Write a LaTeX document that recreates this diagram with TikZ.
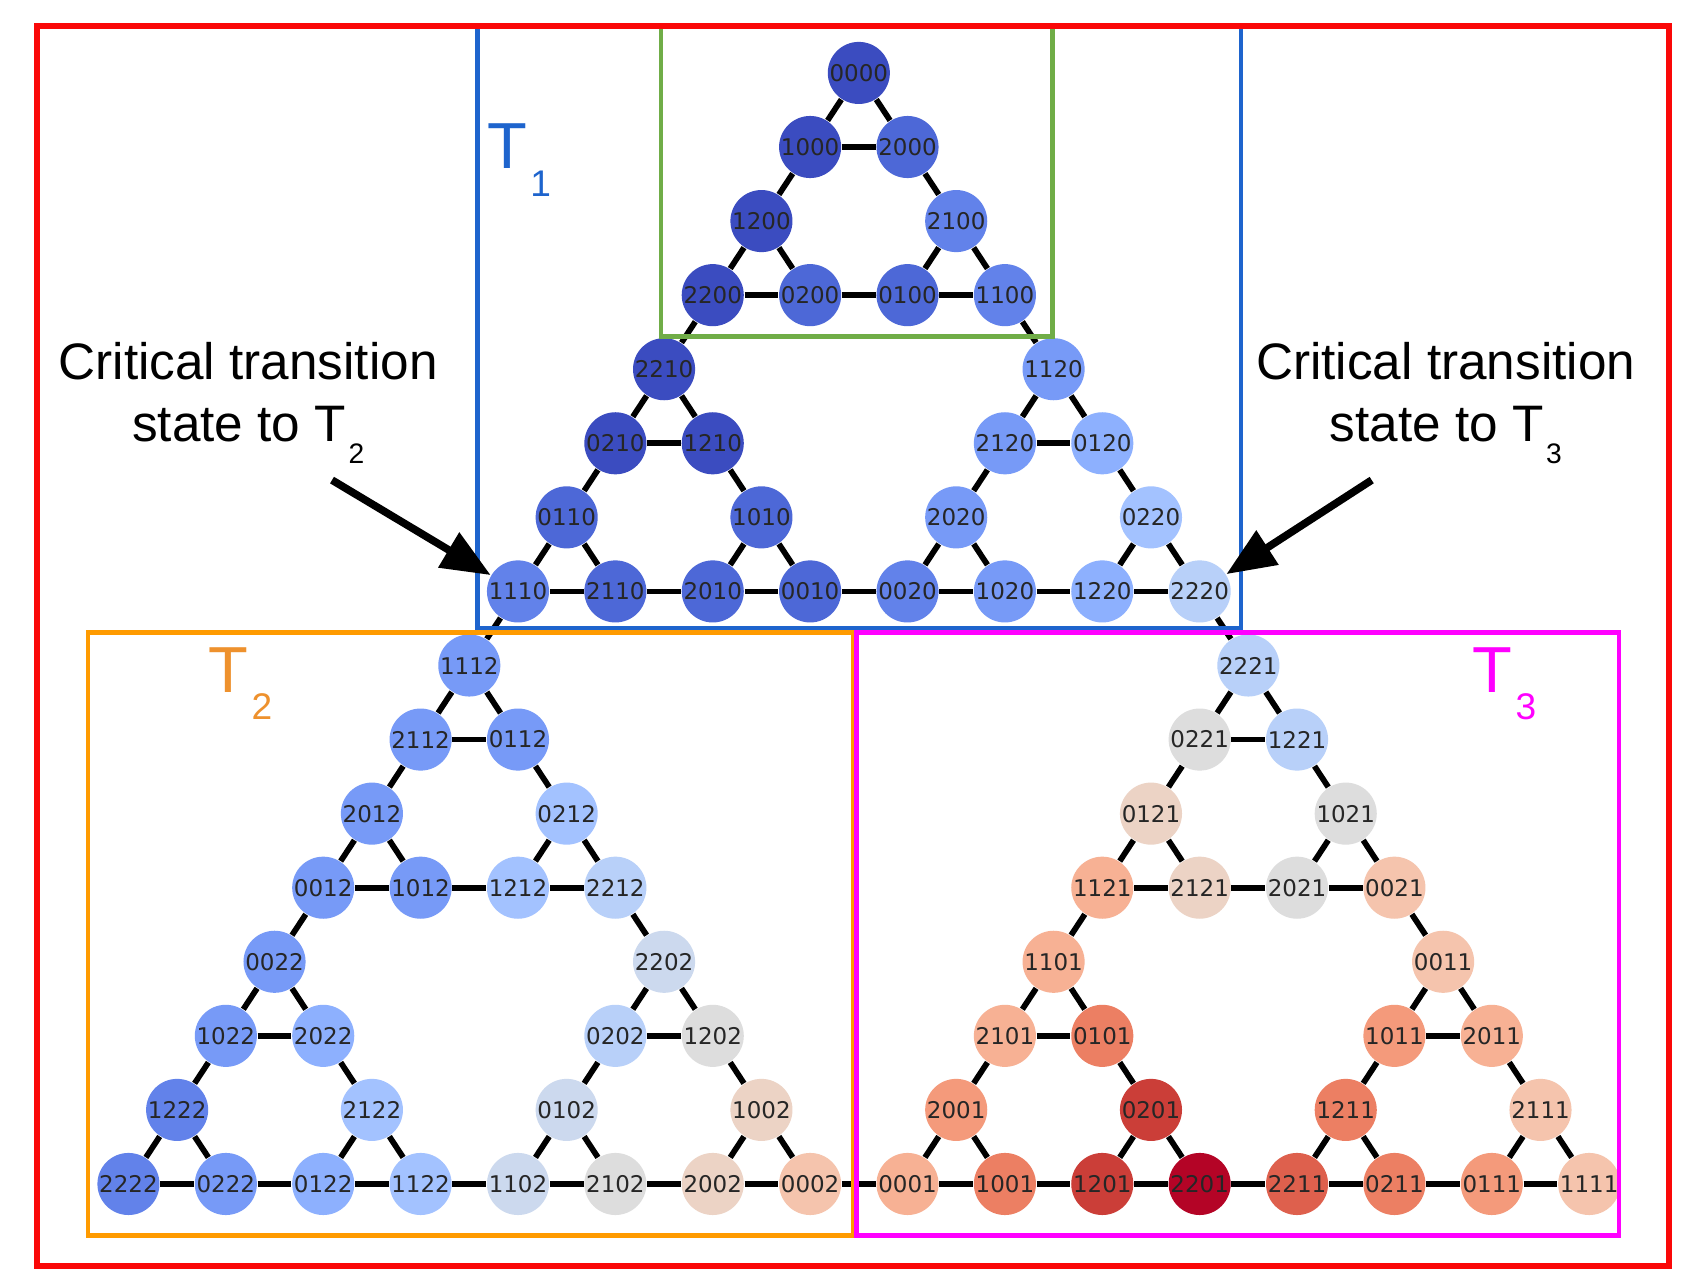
\documentclass[tikz,border=0pt]{standalone}
\usepackage{fontspec}
\setmainfont{Liberation Sans}
\newfontfamily\labelfont{DejaVu Sans}
\usetikzlibrary{arrows.meta}

% coolwarm steps, 0 = cold, 16 = hot
\definecolor{cw0}{RGB}{59,76,192}
\definecolor{cw1}{RGB}{77,104,215}
\definecolor{cw2}{RGB}{98,130,234}
\definecolor{cw3}{RGB}{119,154,247}
\definecolor{cw4}{RGB}{141,176,254}
\definecolor{cw5}{RGB}{163,194,255}
\definecolor{cw6}{RGB}{184,208,249}
\definecolor{cw7}{RGB}{204,217,238}
\definecolor{cw8}{RGB}{221,221,221}
\definecolor{cw9}{RGB}{236,211,197}
\definecolor{cw10}{RGB}{245,196,173}
\definecolor{cw11}{RGB}{247,177,148}
\definecolor{cw12}{RGB}{244,154,123}
\definecolor{cw13}{RGB}{236,127,99}
\definecolor{cw14}{RGB}{222,96,77}
\definecolor{cw15}{RGB}{203,62,56}
\definecolor{cw16}{RGB}{180,4,38}

\definecolor{outerred}{RGB}{250,8,8}
\definecolor{tonecold}{RGB}{30,100,205}
\definecolor{topgreen}{RGB}{112,173,71}
\definecolor{framorange}{RGB}{255,155,0}
\definecolor{tagorange}{RGB}{238,145,45}
\definecolor{hotmagenta}{RGB}{255,0,255}

\newcommand{\Tsub}[2][0.55]{T\kern0.05em\raisebox{-0.42em}{\scalebox{#1}{#2}}}

\begin{document}
\begin{tikzpicture}[
  x=0.01cm, y=-0.01cm,
  vtx/.style={
    circle, draw=none, fill=#1, minimum size=5.7mm, inner sep=0pt,
    font=\labelfont\fontsize{6}{7}\selectfont, text=black!85,
  },
  link/.style={line width=1.5pt, black},
  frame/.style={line width=1.2pt},
  pointer/.style={-{Triangle[length=4.5mm, width=3.6mm]}, line width=2pt},
  caption/.style={align=center, inner sep=0pt, font=\fontsize{13.4}{16.2}\selectfont},
  tag/.style={anchor=base west, inner sep=0pt, font=\fontsize{17}{20}\selectfont},
]

\fill[white] (0,0) rectangle (1568,1182);
\useasboundingbox (0,0) rectangle (1568,1182);

% ---- States of the Hanoi graph, column / row on the triangular grid -------
\begin{scope}[shift={(118,67)}, x=0.447cm, y=-0.68cm]
% T1
\node[vtx=cw0] (n0000) at (15,0) {0000};
\node[vtx=cw0] (n1000) at (14,1) {1000};
\node[vtx=cw1] (n2000) at (16,1) {2000};
\node[vtx=cw0] (n1200) at (13,2) {1200};
\node[vtx=cw2] (n2100) at (17,2) {2100};
\node[vtx=cw0] (n2200) at (12,3) {2200};
\node[vtx=cw1] (n0200) at (14,3) {0200};
\node[vtx=cw1] (n0100) at (16,3) {0100};
\node[vtx=cw2] (n1100) at (18,3) {1100};
\node[vtx=cw0] (n2210) at (11,4) {2210};
\node[vtx=cw3] (n1120) at (19,4) {1120};
\node[vtx=cw0] (n0210) at (10,5) {0210};
\node[vtx=cw0] (n1210) at (12,5) {1210};
\node[vtx=cw3] (n2120) at (18,5) {2120};
\node[vtx=cw4] (n0120) at (20,5) {0120};
\node[vtx=cw1] (n0110) at (9,6) {0110};
\node[vtx=cw1] (n1010) at (13,6) {1010};
\node[vtx=cw3] (n2020) at (17,6) {2020};
\node[vtx=cw5] (n0220) at (21,6) {0220};
\node[vtx=cw2] (n1110) at (8,7) {1110};
\node[vtx=cw1] (n2110) at (10,7) {2110};
\node[vtx=cw1] (n2010) at (12,7) {2010};
\node[vtx=cw1] (n0010) at (14,7) {0010};
\node[vtx=cw2] (n0020) at (16,7) {0020};
\node[vtx=cw3] (n1020) at (18,7) {1020};
\node[vtx=cw4] (n1220) at (20,7) {1220};
\node[vtx=cw6] (n2220) at (22,7) {2220};
% T2
\node[vtx=cw3] (n1112) at (7,8) {1112};
\node[vtx=cw3] (n2112) at (6,9) {2112};
\node[vtx=cw3] (n0112) at (8,9) {0112};
\node[vtx=cw3] (n2012) at (5,10) {2012};
\node[vtx=cw5] (n0212) at (9,10) {0212};
\node[vtx=cw3] (n0012) at (4,11) {0012};
\node[vtx=cw3] (n1012) at (6,11) {1012};
\node[vtx=cw5] (n1212) at (8,11) {1212};
\node[vtx=cw6] (n2212) at (10,11) {2212};
\node[vtx=cw3] (n0022) at (3,12) {0022};
\node[vtx=cw7] (n2202) at (11,12) {2202};
\node[vtx=cw3] (n1022) at (2,13) {1022};
\node[vtx=cw4] (n2022) at (4,13) {2022};
\node[vtx=cw6] (n0202) at (10,13) {0202};
\node[vtx=cw8] (n1202) at (12,13) {1202};
\node[vtx=cw2] (n1222) at (1,14) {1222};
\node[vtx=cw5] (n2122) at (5,14) {2122};
\node[vtx=cw7] (n0102) at (9,14) {0102};
\node[vtx=cw9] (n1002) at (13,14) {1002};
\node[vtx=cw2] (n2222) at (0,15) {2222};
\node[vtx=cw3] (n0222) at (2,15) {0222};
\node[vtx=cw4] (n0122) at (4,15) {0122};
\node[vtx=cw5] (n1122) at (6,15) {1122};
\node[vtx=cw7] (n1102) at (8,15) {1102};
\node[vtx=cw8] (n2102) at (10,15) {2102};
\node[vtx=cw9] (n2002) at (12,15) {2002};
\node[vtx=cw10] (n0002) at (14,15) {0002};
% T3
\node[vtx=cw6] (n2221) at (23,8) {2221};
\node[vtx=cw8] (n0221) at (22,9) {0221};
\node[vtx=cw6] (n1221) at (24,9) {1221};
\node[vtx=cw9] (n0121) at (21,10) {0121};
\node[vtx=cw8] (n1021) at (25,10) {1021};
\node[vtx=cw11] (n1121) at (20,11) {1121};
\node[vtx=cw9] (n2121) at (22,11) {2121};
\node[vtx=cw8] (n2021) at (24,11) {2021};
\node[vtx=cw10] (n0021) at (26,11) {0021};
\node[vtx=cw11] (n1101) at (19,12) {1101};
\node[vtx=cw10] (n0011) at (27,12) {0011};
\node[vtx=cw11] (n2101) at (18,13) {2101};
\node[vtx=cw13] (n0101) at (20,13) {0101};
\node[vtx=cw12] (n1011) at (26,13) {1011};
\node[vtx=cw11] (n2011) at (28,13) {2011};
\node[vtx=cw12] (n2001) at (17,14) {2001};
\node[vtx=cw15] (n0201) at (21,14) {0201};
\node[vtx=cw13] (n1211) at (25,14) {1211};
\node[vtx=cw10] (n2111) at (29,14) {2111};
\node[vtx=cw11] (n0001) at (16,15) {0001};
\node[vtx=cw13] (n1001) at (18,15) {1001};
\node[vtx=cw15] (n1201) at (20,15) {1201};
\node[vtx=cw16] (n2201) at (22,15) {2201};
\node[vtx=cw14] (n2211) at (24,15) {2211};
\node[vtx=cw13] (n0211) at (26,15) {0211};
\node[vtx=cw12] (n0111) at (28,15) {0111};
\node[vtx=cw10] (n1111) at (30,15) {1111};
\end{scope}

% ---- Moves: horizontal runs ---------------------------------------------
\draw[link] (n1000) -- (n2000);
\draw[link] (n2200) -- (n0200) -- (n0100) -- (n1100);
\draw[link] (n0210) -- (n1210);
\draw[link] (n2120) -- (n0120);
\draw[link] (n1110) -- (n2110) -- (n2010) -- (n0010) -- (n0020) -- (n1020) -- (n1220) -- (n2220);
\draw[link] (n2112) -- (n0112);
\draw[link] (n0221) -- (n1221);
\draw[link] (n0012) -- (n1012) -- (n1212) -- (n2212);
\draw[link] (n1121) -- (n2121) -- (n2021) -- (n0021);
\draw[link] (n1022) -- (n2022);
\draw[link] (n0202) -- (n1202);
\draw[link] (n2101) -- (n0101);
\draw[link] (n1011) -- (n2011);
\draw[link] (n2222) -- (n0222) -- (n0122) -- (n1122) -- (n1102) -- (n2102) -- (n2002) -- (n0002)
  -- (n0001) -- (n1001) -- (n1201) -- (n2201) -- (n2211) -- (n0211) -- (n0111) -- (n1111);

% ---- Moves: down-left runs ----------------------------------------------
\draw[link] (n0000) -- (n1000) -- (n1200) -- (n2200) -- (n2210) -- (n0210) -- (n0110) -- (n1110)
  -- (n1112) -- (n2112) -- (n2012) -- (n0012) -- (n0022) -- (n1022) -- (n1222) -- (n2222);
\draw[link] (n2100) -- (n0100);
\draw[link] (n1010) -- (n2010);
\draw[link] (n0212) -- (n1212);
\draw[link] (n2122) -- (n0122);
\draw[link] (n1120) -- (n2120) -- (n2020) -- (n0020);
\draw[link] (n2202) -- (n0202) -- (n0102) -- (n1102);
\draw[link] (n0220) -- (n1220);
\draw[link] (n1002) -- (n2002);
\draw[link] (n2221) -- (n0221) -- (n0121) -- (n1121) -- (n1101) -- (n2101) -- (n2001) -- (n0001);
\draw[link] (n1021) -- (n2021);
\draw[link] (n0201) -- (n1201);
\draw[link] (n0011) -- (n1011) -- (n1211) -- (n2211);
\draw[link] (n2111) -- (n0111);

% ---- Moves: down-right runs ---------------------------------------------
\draw[link] (n0000) -- (n2000) -- (n2100) -- (n1100) -- (n1120) -- (n0120) -- (n0220) -- (n2220)
  -- (n2221) -- (n1221) -- (n1021) -- (n0021) -- (n0011) -- (n2011) -- (n2111) -- (n1111);
\draw[link] (n1200) -- (n0200);
\draw[link] (n2020) -- (n1020);
\draw[link] (n0121) -- (n2121);
\draw[link] (n1211) -- (n0211);
\draw[link] (n2210) -- (n1210) -- (n1010) -- (n0010);
\draw[link] (n1101) -- (n0101) -- (n0201) -- (n2201);
\draw[link] (n0110) -- (n2110);
\draw[link] (n2001) -- (n1001);
\draw[link] (n1112) -- (n0112) -- (n0212) -- (n2212) -- (n2202) -- (n1202) -- (n1002) -- (n0002);
\draw[link] (n2012) -- (n1012);
\draw[link] (n0102) -- (n2102);
\draw[link] (n0022) -- (n2022) -- (n2122) -- (n1122);
\draw[link] (n1222) -- (n0222);

% ---- Regions -------------------------------------------------------------
\draw[frame, topgreen]   (607,24) rectangle (967,309);
\draw[frame, tonecold]   (438.5,24) rectangle (1140,577);
\draw[frame, framorange] (81,581) rectangle (784,1135);
\draw[frame, hotmagenta] (787,581) rectangle (1487,1135);
\draw[line width=1.5pt, outerred] (34,24) rectangle (1533,1163);

\node[tag, text=tonecold]   (tagA) at (447,155)  {\Tsub[0.57]{1}};
\node[tag, text=tagorange]  (tagB) at (191,636)  {\Tsub[0.57]{2}};
\node[tag, text=hotmagenta] (tagC) at (1352,636) {\Tsub[0.57]{3}};

% ---- Critical transition states ------------------------------------------
\node[caption, anchor=base] (capL) at (228,406) {Critical transition\\state to \Tsub{2}};
\node[caption, anchor=base] (capR) at (1328,406) {Critical transition\\state to \Tsub{3}};

\coordinate (tailL) at (305,441);
\coordinate (tailR) at (1260,441);
\draw[pointer] (tailL) -- (n1110);
\draw[pointer] (tailR) -- (n2220);

\end{tikzpicture}
\end{document}
